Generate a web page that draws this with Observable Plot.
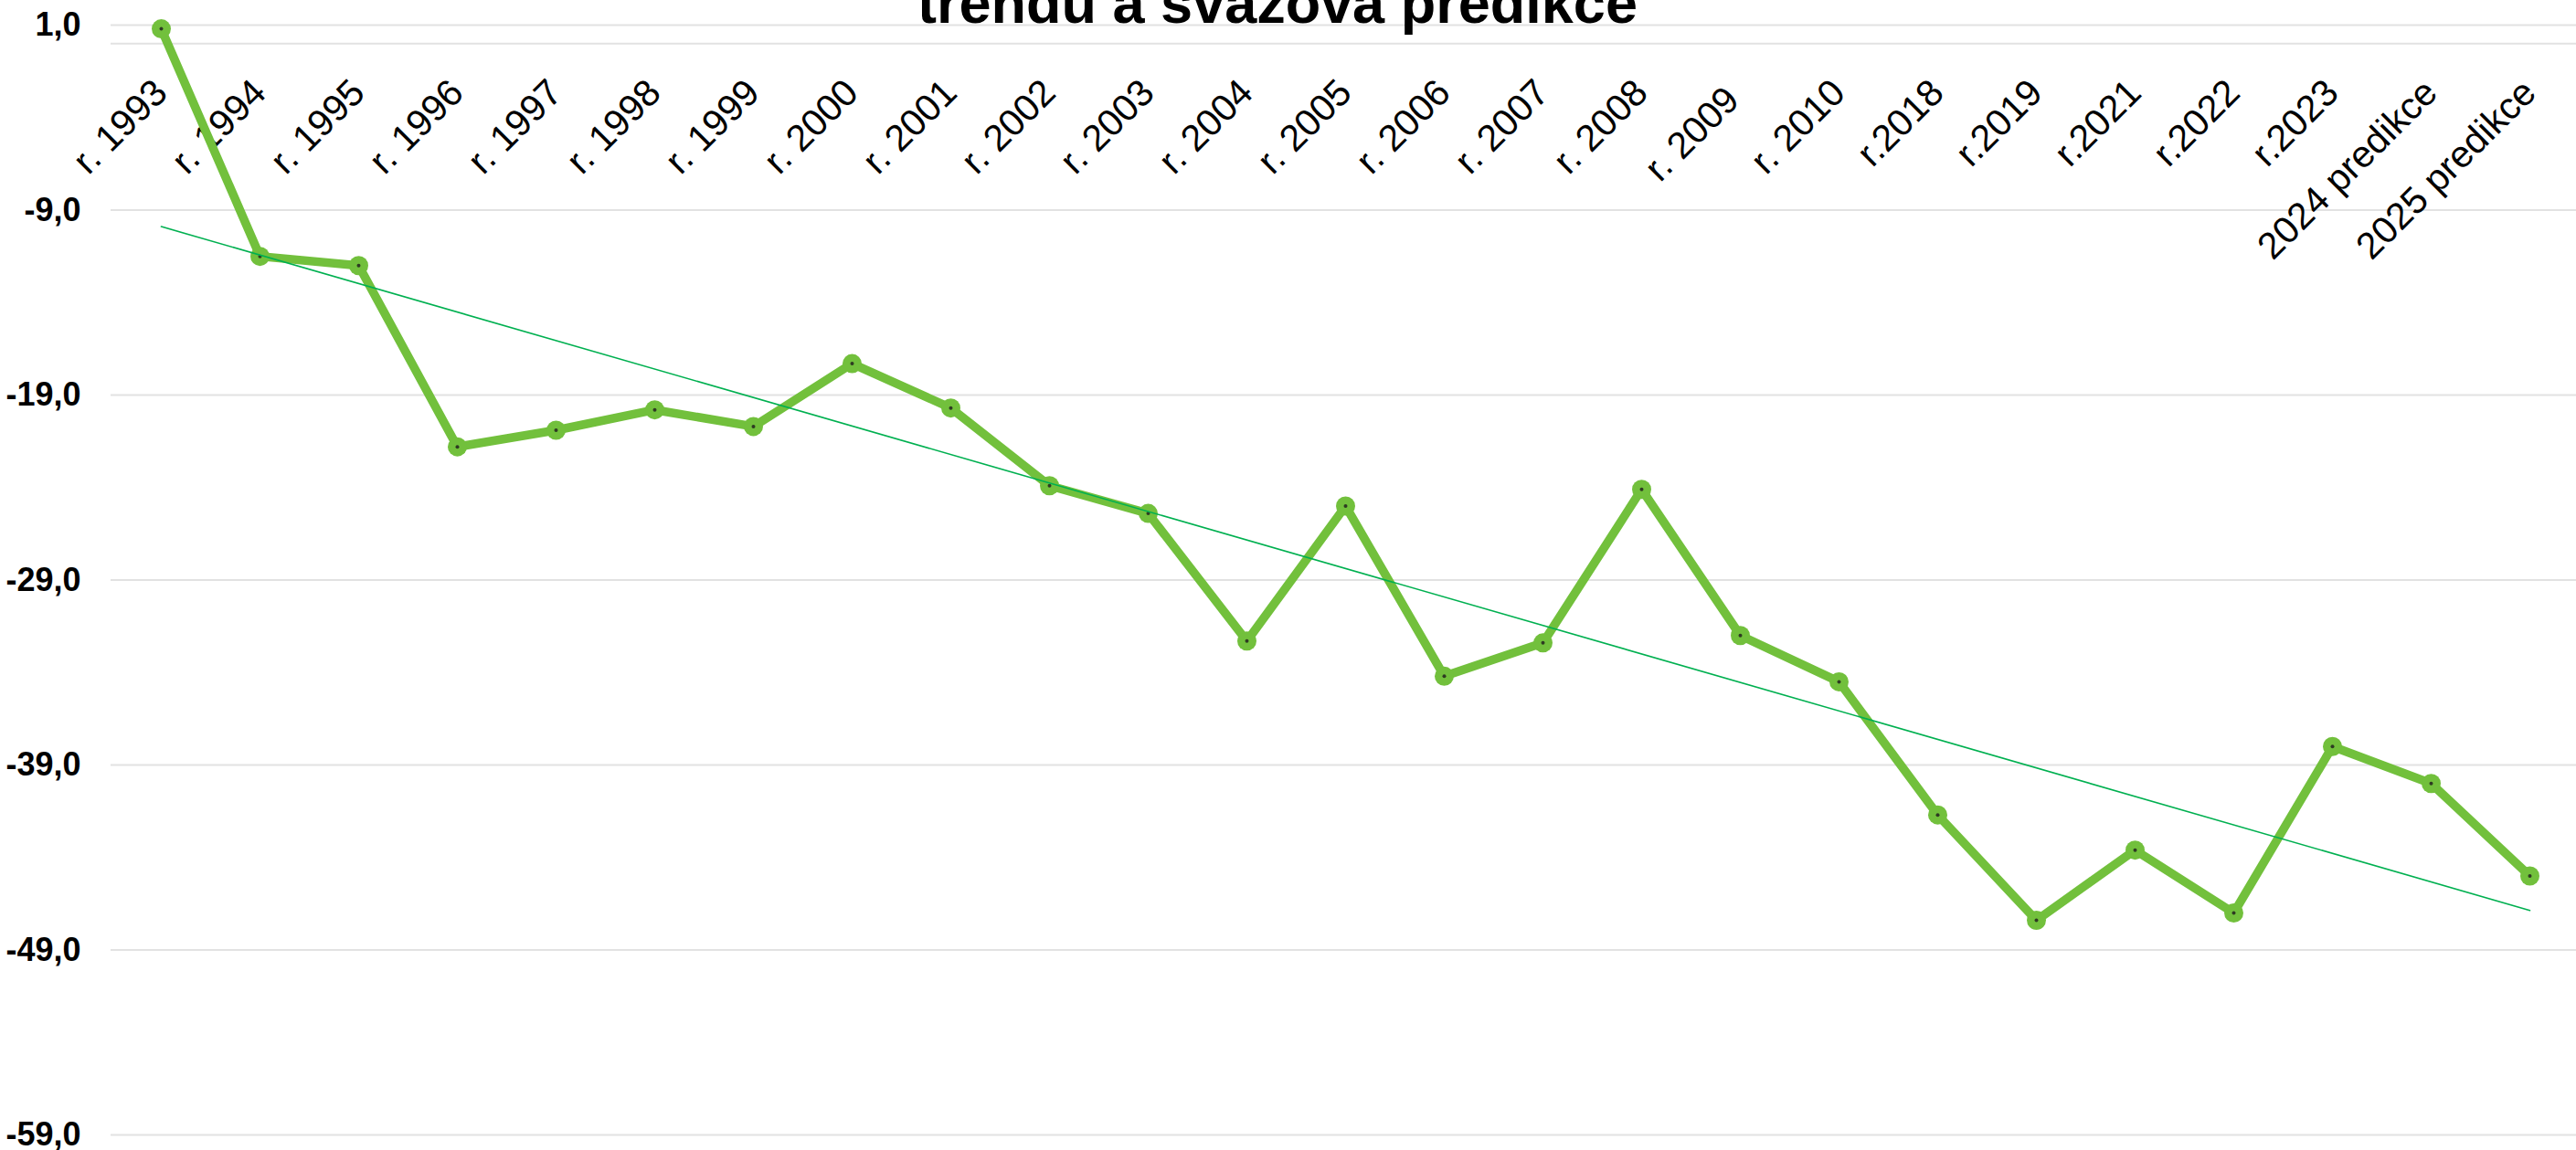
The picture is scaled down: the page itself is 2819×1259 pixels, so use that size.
<!DOCTYPE html>
<html><head><meta charset="utf-8">
<script src="https://cdn.jsdelivr.net/npm/d3@7"></script>
<script src="https://cdn.jsdelivr.net/npm/@observablehq/plot@0.6"></script>
<style>
html,body{margin:0;padding:0;background:#fff;overflow:hidden;}
#wrap{position:relative;width:2819px;height:1259px;overflow:hidden;}
#title{position:absolute;left:0;width:2796px;top:-28px;text-align:center;font-family:"Liberation Sans",Arial,sans-serif;font-weight:bold;font-size:63px;line-height:63px;white-space:nowrap;color:#000;}
svg text{white-space:pre;}
</style></head><body>
<div id="wrap"><div id="chart"></div><div id="title"></div></div>
<script>
const titleText = "trendu a svazová predikce";
const categories = ["r. 1993","r. 1994","r. 1995","r. 1996","r. 1997","r. 1998","r. 1999","r. 2000","r. 2001","r. 2002","r. 2003","r. 2004","r. 2005","r. 2006","r. 2007","r. 2008","r. 2009 ","r. 2010","r.2018","r.2019","r.2021","r.2022","r.2023","2024 predikce","2025 predikce"];
const values = [0.8,-11.5,-12.0,-21.8,-20.9,-19.8,-20.7,-17.3,-19.7,-23.9,-25.4,-32.3,-25.0,-34.2,-32.4,-24.1,-32.0,-34.5,-41.7,-47.4,-43.6,-47.0,-38.0,-40.0,-45.0];
const yTicks = [1,-9,-19,-29,-39,-49,-59];

document.getElementById("title").textContent = titleText;

const data = categories.map((c,i)=>({cat:c, v:values[i]}));
const n = values.length;
const idx = d3.range(n);
const mx = d3.mean(idx), my = d3.mean(values);
const slope = d3.sum(idx, i => (i-mx)*(values[i]-my)) / d3.sum(idx, i => (i-mx)**2);
const icpt = my - slope*mx;
const trend = [{cat: categories[0], v: icpt}, {cat: categories[n-1], v: icpt + slope*(n-1)}];
const fmt = v => v.toFixed(1).replace(".", ",");
const green = "#72c03c";

const chart = Plot.plot({
  width: 2819, height: 1259,
  marginLeft: 121, marginRight: -4, marginTop: 27, marginBottom: 17,
  style: {fontFamily: '"Liberation Sans", Arial, sans-serif', background: "white", color: "black"},
  x: {type: "point", domain: categories, padding: 0.5, axis: null},
  y: {domain: [-59, 1], axis: null},
  marks: [
    Plot.ruleY(yTicks, {stroke: "#e2e2e2", strokeWidth: 2}),
    Plot.ruleY([0], {stroke: "#e2e2e2", strokeWidth: 2}),
    Plot.text(yTicks, {y: d => d, text: fmt, frameAnchor: "left", dx: -33, textAnchor: "end", fontSize: 36, fontWeight: "bold", fill: "black"}),
    Plot.text(categories, {x: d => d, y: () => 0, text: d => d, rotate: -45, textAnchor: "end", lineAnchor: "bottom", dx: 9, dy: 56, fontSize: 41, fill: "black"}),
    Plot.line(data, {x: "cat", y: "v", stroke: green, strokeWidth: 9.5, strokeLinejoin: "round"}),
    Plot.dot(data, {x: "cat", y: "v", r: 10.5, fill: green}),
    Plot.dot(data, {x: "cat", y: "v", r: 2, fill: "#2e3b22"}),
    Plot.line(trend, {x: "cat", y: "v", stroke: "#00b050", strokeWidth: 1.6})
  ]
});
document.getElementById("chart").appendChild(chart);
</script>
</body></html>
